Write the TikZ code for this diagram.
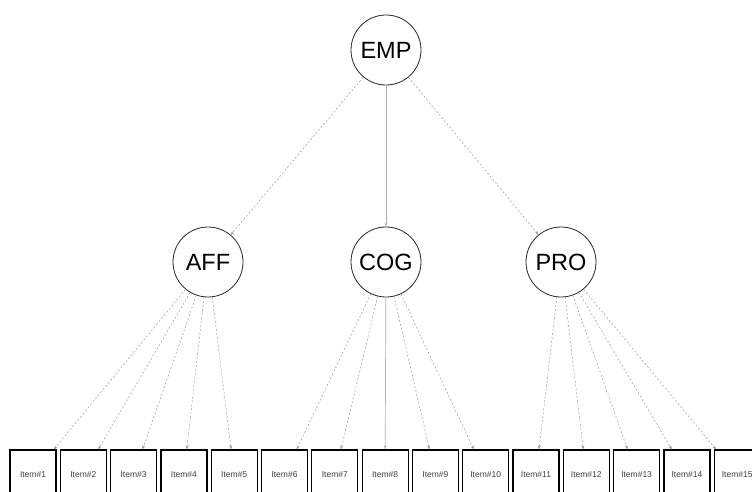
\documentclass[tikz,border=0pt]{standalone}
\usepackage{fontspec}
\setmainfont{Liberation Sans}
\usetikzlibrary{arrows.meta}
\begin{document}
\begin{tikzpicture}[x=1pt,y=-1pt,
  lat/.style={circle,draw=black!85,line width=0.8pt,minimum size=70pt,inner sep=0pt,
    font=\fontsize{23.5}{28}\selectfont},
  obs/.style={rectangle,draw=black,line width=1.2pt,minimum width=46pt,minimum height=50pt,
    inner sep=0pt,font=\fontsize{8.5}{10}\selectfont,text=black!75},
  load/.style={draw=black!40,line width=0.5pt,dash pattern=on 2pt off 2pt,
    -{Stealth[length=4pt,width=3pt]}},
  fixed/.style={draw=black!30,line width=0.7pt,-{Stealth[length=4pt,width=3pt]}}]
\useasboundingbox (0,0) rectangle (752,492);
\clip (0,0) rectangle (752,492);
\node[lat] (EMP) at (386,50) {EMP};
\node[lat] (AFF) at (208,262) {AFF};
\node[lat] (COG) at (386,262) {COG};
\node[lat] (PRO) at (561,262) {PRO};
\foreach \i in {1,...,15} {
  \node[obs] (I\i) at ({33+50.3*(\i-1)},475) {Item\#\i};
}
\draw[load] (EMP) -- (AFF);
\draw[fixed] (EMP) -- (COG);
\draw[load] (EMP) -- (PRO);
\foreach \i in {1,...,5} { \draw[load] (AFF) -- (I\i); }
\foreach \i in {6,7,9,10} { \draw[load] (COG) -- (I\i); }
\draw[fixed] (COG) -- (I8);
\foreach \i in {11,...,15} { \draw[load] (PRO) -- (I\i); }
\end{tikzpicture}
\end{document}
